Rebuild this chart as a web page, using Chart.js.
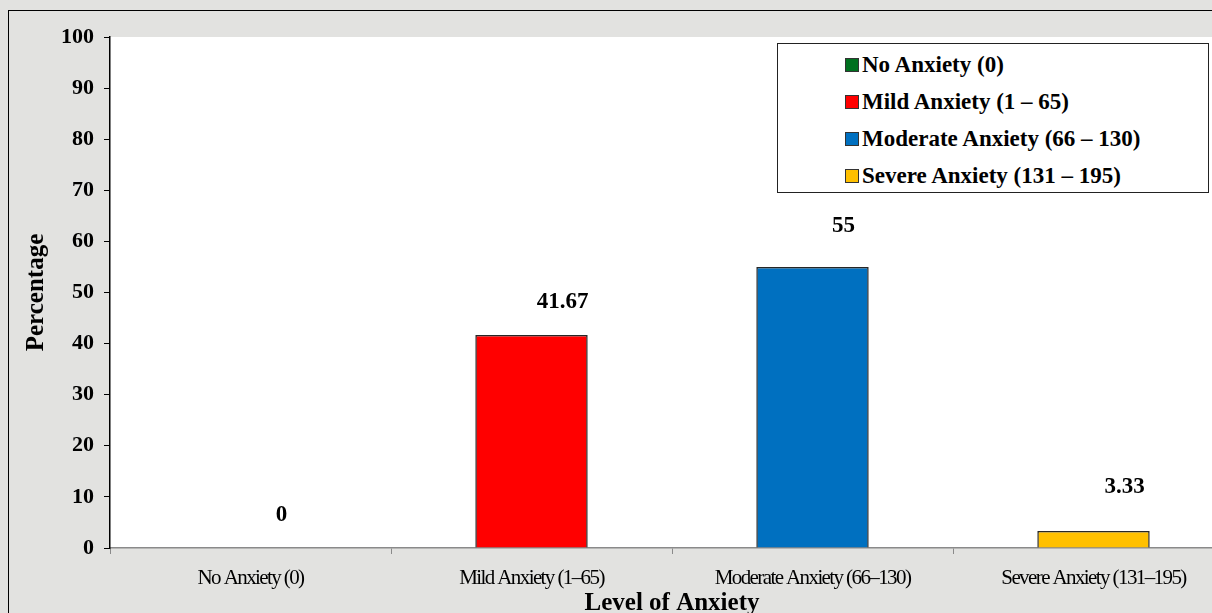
<!DOCTYPE html>
<html>
<head>
<meta charset="utf-8">
<script src="https://cdn.jsdelivr.net/npm/chart.js@4/dist/chart.umd.min.js"></script>
<style>
  html, body { margin: 0; padding: 0; }
  body { width: 1212px; height: 613px; overflow: hidden; }
  #stage { position: relative; width: 1212px; height: 613px; overflow: hidden; background: #e2e2e0; }
  #frame { position: absolute; left: 8px; top: 10px; width: 1230px; height: 640px; border: 1.5px solid #000; box-sizing: border-box; }
  #wrap { position: absolute; left: 0; top: 0; width: 1240px; height: 613px; }
  #legend {
    position: absolute; left: 777px; top: 43px; width: 432px; height: 150px;
    box-sizing: border-box; border: 1.5px solid #222; background: #fff;
    padding: 2px 0 0 67px;
    font-family: 'Liberation Serif', 'Times New Roman', serif; font-weight: bold; font-size: 23px; color: #000;
  }
  #legend .row { height: 37px; display: flex; align-items: center; white-space: nowrap; }
  #legend .sw { width: 12px; height: 12px; border: 1px solid #333; margin-right: 3px; flex: none; }
</style>
</head>
<body>
<div id="stage">
  <div id="frame"></div>
  <div id="wrap"><canvas id="anx"></canvas></div>
  <div id="legend"></div>
</div>
<script>
// ── Data ────────────────────────────────────────────────────
const categories = ['No Anxiety (0)', 'Mild Anxiety (1–65)', 'Moderate Anxiety (66–130)', 'Severe Anxiety (131–195)'];
const legendNames = ['No Anxiety (0)', 'Mild Anxiety (1 – 65)', 'Moderate Anxiety (66 – 130)', 'Severe Anxiety (131 – 195)'];
const percentages = [0, 41.67, 55, 3.33];

// ── Styles ──────────────────────────────────────────────────
const barColors = ['#00701f', '#ff0000', '#0070c0', '#ffc000'];
const SERIF = "'Liberation Serif', 'Times New Roman', serif";

// white plot background
const plotBg = {
  id: 'plotBg',
  beforeDraw(chart) {
    const { ctx, chartArea: a } = chart;
    ctx.save();
    ctx.fillStyle = '#ffffff';
    ctx.fillRect(a.left, a.top, a.right - a.left, a.bottom - a.top);
    ctx.restore();
  }
};

// value labels above bars (placed a bit right of centre, like the original)
const valueLabels = {
  id: 'valueLabels',
  afterDatasetsDraw(chart, args, opts) {
    const { ctx } = chart;
    const meta = chart.getDatasetMeta(0);
    ctx.save();
    ctx.font = `bold ${opts.size}px ${SERIF}`;
    ctx.fillStyle = '#000';
    ctx.textAlign = 'center';
    ctx.textBaseline = 'middle';
    meta.data.forEach((bar, i) => {
      ctx.fillText(String(percentages[i]), bar.x + opts.dx, bar.y - opts.dy[i]);
    });
    ctx.restore();
  }
};

// x tick labels are drawn after the datasets (ticks.z = 1); squeeze them like the original
const squeeze = {
  id: 'squeeze',
  afterDatasetsDraw(chart, args, opts) { chart.ctx.letterSpacing = opts.spacing; },
  afterDraw(chart) { chart.ctx.letterSpacing = '0px'; }
};

new Chart(document.getElementById('anx'), {
  type: 'bar',
  data: {
    labels: categories,
    datasets: [{
      label: 'Percentage',
      data: percentages,
      backgroundColor: barColors,
      borderColor: '#262626',
      borderWidth: 1.5,
      barPercentage: 0.4,
      categoryPercentage: 1
    }]
  },
  options: {
    responsive: true, maintainAspectRatio: false,
    animation: false,
    layout: { padding: { top: 37, right: 6, left: 0, bottom: 0 } },
    scales: {
      x: {
        grid: { display: true, offset: true, drawOnChartArea: false, tickLength: 6, color: '#8a8a8a' },
        border: { color: '#8a8a8a', width: 1.5 },
        ticks: { z: 1, color: '#000', padding: 12, maxRotation: 0, autoSkip: false, font: { family: SERIF, size: 21 } },
        title: {
          display: true, text: 'Level of Anxiety', color: '#000',
          font: { family: SERIF, size: 25, weight: 'bold', lineHeight: 1 },
          padding: { top: 0, bottom: -3 }
        },
        afterFit: s => { s.height = 65; }
      },
      y: {
        min: 0, max: 100,
        grid: { display: true, drawOnChartArea: false, tickLength: 6, color: '#000' },
        border: { color: '#000', width: 1.5 },
        ticks: { stepSize: 10, color: '#000', padding: 10, font: { family: SERIF, size: 22, weight: 'bold' } },
        title: {
          display: true, text: 'Percentage', color: '#000',
          font: { family: SERIF, size: 25, weight: 'bold', lineHeight: 1 },
          padding: { top: 24, bottom: 0 }
        },
        afterFit: s => { s.width = 110; }
      }
    },
    plugins: {
      legend: { display: false },
      tooltip: { enabled: false },
      valueLabels: { size: 23, dx: 31, dy: [33, 33, 41, 44] },
      squeeze: { spacing: '-1.6px' }
    }
  },
  plugins: [plotBg, valueLabels, squeeze]
});

// ── Legend (boxed, top right) ───────────────────────────────
const lg = document.getElementById('legend');
legendNames.forEach((name, i) => {
  const row = document.createElement('div');
  row.className = 'row';
  const sw = document.createElement('span');
  sw.className = 'sw';
  sw.style.background = barColors[i];
  const tx = document.createElement('span');
  tx.textContent = name;
  row.appendChild(sw);
  row.appendChild(tx);
  lg.appendChild(row);
});
</script>
</body>
</html>
